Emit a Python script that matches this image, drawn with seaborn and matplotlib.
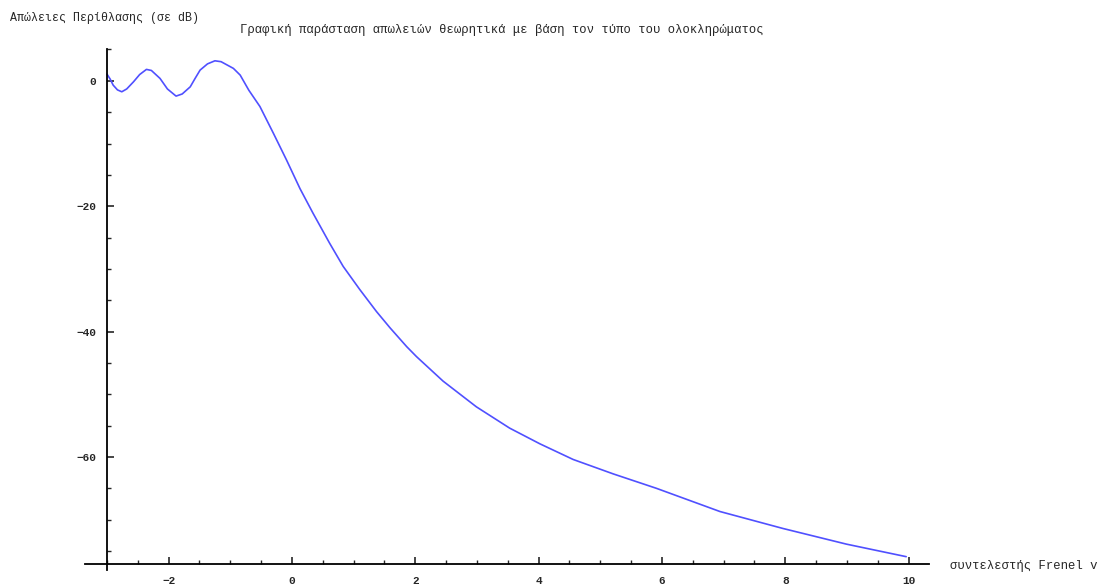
import numpy as np
import pandas as pd
import seaborn as sns
import matplotlib
matplotlib.use("Agg")
import matplotlib.pyplot as plt
from matplotlib.ticker import MultipleLocator

# values
v = [-3.0, -2.95, -2.90, -2.83, -2.76, -2.68, -2.57, -2.47, -2.36, -2.28,
     -2.14, -2.02, -1.88, -1.78, -1.65, -1.57, -1.49, -1.37, -1.25, -1.15,
     -0.95, -0.84, -0.70, -0.52, -0.30, -0.09, 0.13, 0.34, 0.61, 0.83,
     1.10, 1.37, 1.59, 1.86, 2.02, 2.45, 2.99, 3.53, 4.02, 4.56,
     5.21, 5.91, 6.94, 7.96, 8.99, 9.96]
loss_db = [1.07, 0.3, -0.69, -1.45, -1.75, -1.3, -0.16, 1.0, 1.82, 1.65,
           0.38, -1.3, -2.44, -2.1, -0.96, 0.4, 1.71, 2.7, 3.19, 3.05,
           1.98, 0.91, -1.5, -4.1, -8.4, -12.6, -17.2, -21.1, -25.9, -29.6,
           -33.3, -36.8, -39.4, -42.4, -44.0, -47.9, -52.0, -55.4, -57.9, -60.4,
           -62.7, -65.0, -68.7, -71.4, -73.9, -75.9]

title = "Γραφική παράσταση απωλειών θεωρητικά με βάση τον τύπο του ολοκληρώματος"
ylabel = "Απώλειες Περίθλασης (σε dB)"
xlabel = "συντελεστής Frenel v"
xticks = [-2, 0, 2, 4, 6, 8, 10]
yticks = [0, -20, -40, -60]

df = pd.DataFrame({"v": v, "loss": loss_db})

sns.set_style("white")
plt.rcParams['font.family'] = ['Liberation Mono', 'DejaVu Sans Mono']

fig = plt.figure(figsize=(11.02, 5.86), dpi=100)
ax = fig.add_axes([0.0775, 0.0276, 0.7655, 0.888])

sns.lineplot(data=df, x="v", y="loss", ax=ax, color="#5050ff", lw=1.2)

ax.set_xlim(-3.35, 10.33)
ax.set_ylim(-78, 5)

for s in ["top", "right"]:
    ax.spines[s].set_visible(False)
ax.spines["left"].set_position(("data", -3))
ax.spines["bottom"].set_position(("data", -77))
for s in ["left", "bottom"]:
    ax.spines[s].set_color("black")
    ax.spines[s].set_linewidth(1.3)

ax.set_xticks(xticks)
ax.set_yticks(yticks)
ax.xaxis.set_minor_locator(MultipleLocator(0.5))
ax.yaxis.set_minor_locator(MultipleLocator(5))
ax.tick_params(axis="x", which="major", direction="in", length=5, width=1.2, pad=9,
               labelsize=8, bottom=True)
ax.tick_params(axis="x", which="minor", direction="in", length=3, width=1.0, bottom=True)
ax.tick_params(axis="y", which="major", direction="in", length=5, width=1.2, pad=8,
               labelsize=8, left=True)
ax.tick_params(axis="y", which="minor", direction="in", length=3, width=1.0, left=True)
for lab in ax.get_xticklabels() + ax.get_yticklabels():
    lab.set_fontweight("bold")

ax.set_xlabel("")
ax.set_ylabel("")

fig.text(0.009, 0.969, ylabel, fontsize=8.4, va="center", ha="left")
fig.text(0.218, 0.949, title, fontsize=8.8, va="center", ha="left")
fig.text(0.862, 0.034, xlabel, fontsize=8.8, va="center", ha="left")

fig.savefig("out.png", dpi=100, facecolor="white")
